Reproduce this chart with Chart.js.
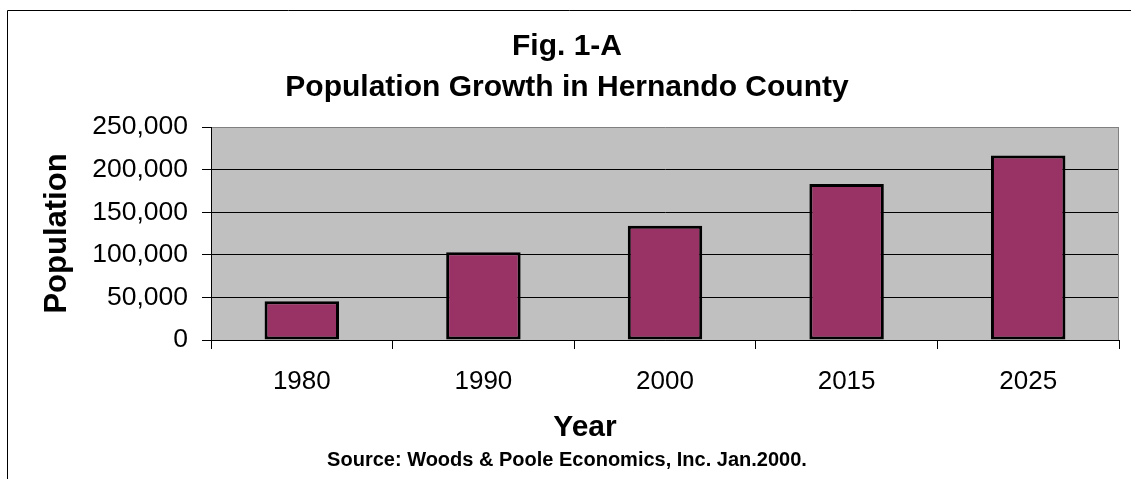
<!DOCTYPE html>
<html>
<head>
<meta charset="utf-8">
<title>Fig. 1-A Population Growth in Hernando County</title>
<script src="https://cdn.jsdelivr.net/npm/chart.js@4.4.0/dist/chart.umd.min.js"></script>
<style>
    body { margin: 0; background: #fff; }
    #wrap { width: 1131px; height: 479px; }
</style>
</head>
<body>
<div id="wrap"><canvas id="myChart"></canvas></div>
<script>
// 차트 데이터
var years = ['1980', '1990', '2000', '2015', '2025'];
var population = [45500, 103000, 134000, 183000, 216500];
var yTicks = [0, 50000, 100000, 150000, 200000, 250000];

var titleLines = ['Fig. 1-A', 'Population Growth in Hernando County'];
var xTitle = 'Year';
var yTitle = 'Population';
var sourceText = 'Source: Woods & Poole Economics, Inc. Jan.2000.';

var fontName = '"Liberation Sans", Arial, sans-serif';

// 배경, 바깥 테두리, 플롯 영역
var framePlugin = {
    id: 'frame',
    beforeDraw: function(chart) {
        var ctx = chart.ctx;
        var a = chart.chartArea;
        ctx.save();
        ctx.fillStyle = '#fff';
        ctx.fillRect(0, 0, chart.width, chart.height);
        ctx.strokeStyle = '#000';
        ctx.lineWidth = 1;
        ctx.beginPath();
        ctx.moveTo(7.5, chart.height);
        ctx.lineTo(7.5, 10.5);
        ctx.lineTo(chart.width, 10.5);
        ctx.stroke();
        ctx.fillStyle = '#c0c0c0';
        ctx.fillRect(a.left, a.top, a.right - a.left, a.bottom - a.top);
        ctx.restore();
    },
    afterDatasetsDraw: function(chart) {
        var ctx = chart.ctx;
        var a = chart.chartArea;
        ctx.save();
        ctx.strokeStyle = '#808080';
        ctx.lineWidth = 1;
        ctx.beginPath();
        ctx.moveTo(a.right - 0.5, a.top);
        ctx.lineTo(a.right - 0.5, a.bottom);
        ctx.stroke();
        ctx.restore();
    }
};

// x축 제목 (원본은 차트 가운데 쪽으로 치우쳐 있음)
var xTitlePlugin = {
    id: 'xTitle',
    afterDraw: function(chart) {
        var ctx = chart.ctx;
        ctx.save();
        ctx.font = 'bold 30px ' + fontName;
        ctx.fillStyle = '#000';
        ctx.textAlign = 'center';
        ctx.textBaseline = 'middle';
        ctx.fillText(xTitle, 585, 428);
        ctx.restore();
    }
};

var ctx = document.getElementById('myChart').getContext('2d');
var myChart = new Chart(ctx, {
    type: 'bar',
    data: {
        labels: years,
        datasets: [{
            label: 'Population',
            data: population,
            backgroundColor: '#993366',
            borderColor: '#000',
            borderWidth: 3,
            borderSkipped: false,
            barPercentage: 0.41,
            categoryPercentage: 1
        }]
    },
    options: {
        responsive: true,
        maintainAspectRatio: false,
        animation: false,
        events: [],
        layout: {
            padding: {left: 15, right: 12, top: 0, bottom: 7}
        },
        plugins: {
            legend: {display: false},
            tooltip: {enabled: false},
            title: {
                display: true,
                text: titleLines,
                color: '#000',
                font: {family: fontName, size: 30, weight: 'bold', lineHeight: 41 / 30},
                padding: {top: 26, bottom: 19}
            },
            subtitle: {
                display: true,
                position: 'bottom',
                text: sourceText,
                color: '#000',
                font: {family: fontName, size: 20, weight: 'bold', lineHeight: 23 / 20},
                padding: {top: 0, bottom: 0}
            }
        },
        scales: {
            x: {
                offset: true,
                grid: {
                    offset: true,
                    drawOnChartArea: false,
                    drawTicks: true,
                    tickLength: 9,
                    color: '#000'
                },
                border: {color: '#000', width: 1},
                ticks: {
                    color: '#000',
                    padding: 17,
                    font: {family: fontName, size: 26}
                },
                afterFit: function(scale) {
                    scale.height = 109;
                }
            },
            y: {
                min: 0,
                max: 250000,
                afterBuildTicks: function(scale) {
                    scale.ticks = yTicks.map(function(v) { return {value: v}; });
                },
                grid: {
                    color: function(c) {
                        return c.tick && c.tick.value === 250000 ? '#808080' : '#000';
                    },
                    tickColor: '#000',
                    tickLength: 9,
                    lineWidth: 1
                },
                border: {color: '#000', width: 1},
                ticks: {
                    color: '#000',
                    padding: 14,
                    font: {family: fontName, size: 26.5},
                    callback: function(v) {
                        return Number(v).toLocaleString('en-US');
                    }
                },
                title: {
                    display: true,
                    text: yTitle,
                    color: '#000',
                    font: {family: fontName, size: 31, weight: 'bold'},
                    padding: {top: 24, bottom: 0}
                },
                afterFit: function(scale) {
                    scale.width = 196;
                }
            }
        }
    },
    plugins: [framePlugin, xTitlePlugin]
});
</script>
</body>
</html>
